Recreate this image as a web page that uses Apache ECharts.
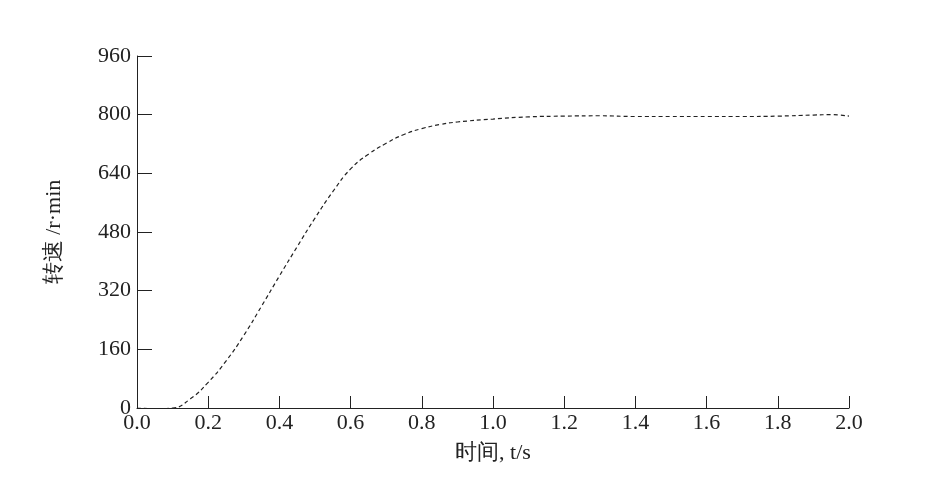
<!DOCTYPE html><html><head><meta charset="utf-8"><script src="https://cdn.jsdelivr.net/npm/echarts@6/dist/echarts.min.js"></script></head><body style="margin:0;background:#fff"><div id="c" style="width:925px;height:490px"></div><script>
const times=[0,0.05,0.1,0.15,0.2,0.25,0.3,0.35,0.4,0.45,0.5,0.55,0.6,0.65,0.7,0.75,0.8,0.85,0.9,1.0,1.1,1.2,1.3,1.4,1.5,1.6,1.7,1.8,1.9,1.95,2.0];
const speeds=[0,-2,0,25,70,128,198,278,360,440,518,590,652,692,722,746,762,773,780,788,794,796,797,795,795,795,795,796,799,800,796];
const xTicks=['0.0','0.2','0.4','0.6','0.8','1.0','1.2','1.4','1.6','1.8','2.0'];
const font='"Liberation Serif","Times New Roman",serif';
const chart=echarts.init(document.getElementById('c'));
chart.setOption({animation:false,grid:{left:137,right:76,top:56,bottom:82},
xAxis:{type:'value',min:0,max:2,interval:0.2,axisLine:{lineStyle:{color:'#222'}},axisTick:{inside:true,length:12,lineStyle:{color:'#222'}},splitLine:{show:false},
axisLabel:{color:'#222',fontSize:22,fontFamily:font,margin:4,formatter:(v)=>xTicks[Math.round(v/0.2)]},
name:'时间, t/s',nameLocation:'middle',nameGap:34,nameTextStyle:{color:'#222',fontSize:22,fontFamily:font}},
yAxis:{type:'value',min:0,max:960,interval:160,axisLine:{lineStyle:{color:'#222'}},axisTick:{inside:true,length:15,lineStyle:{color:'#222'}},splitLine:{show:false},
axisLabel:{color:'#222',fontSize:22,fontFamily:font,margin:6},
name:'转速 /r·min',nameLocation:'middle',nameGap:72,nameTextStyle:{color:'#222',fontSize:22,fontFamily:font}},
series:[{type:'line',smooth:true,symbol:'none',data:times.map((t,i)=>[t,speeds[i]]),lineStyle:{color:'#222',width:1.2,type:[4,3]}}]});
</script></body></html>
